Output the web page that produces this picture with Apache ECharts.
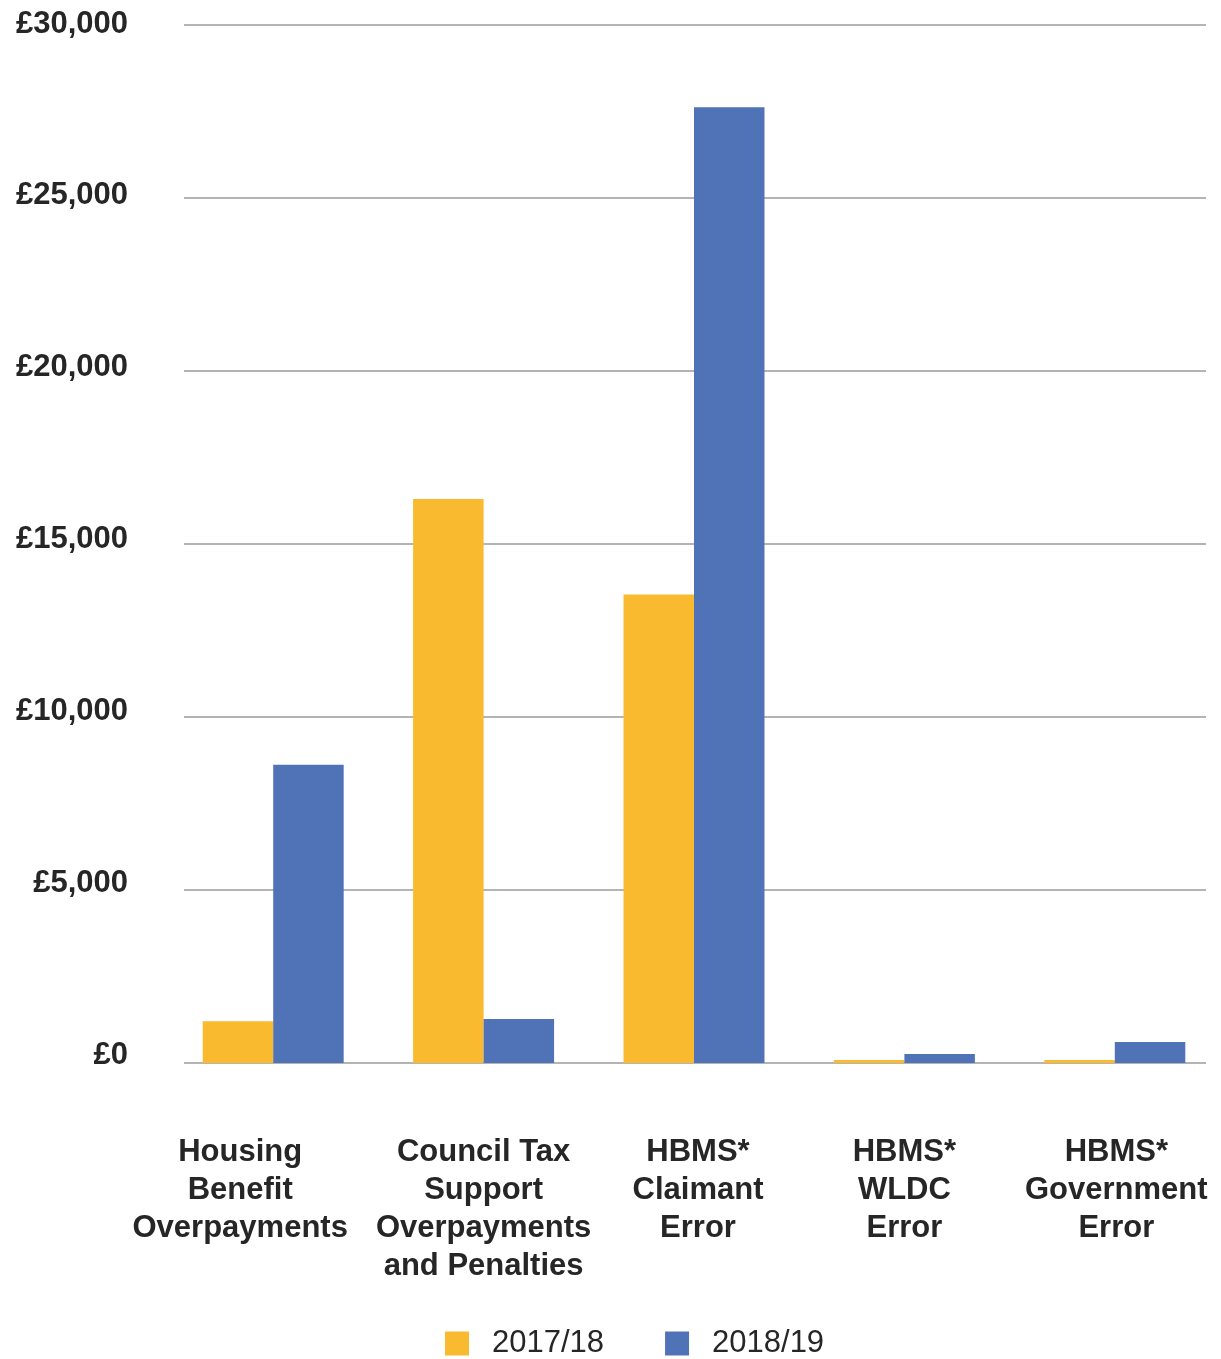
<!DOCTYPE html>
<html><head><meta charset="utf-8">
<script src="https://cdn.jsdelivr.net/npm/echarts@6/dist/echarts.min.js"></script>
<style>html,body{margin:0;padding:0;background:#fff}#c{width:1221px;height:1359px}</style>
</head><body><div id="c"></div>
<script>
const categories = ["Housing\nBenefit\nOverpayments", "Council Tax\nSupport\nOverpayments\nand Penalties", "HBMS*\nClaimant\nError", "HBMS*\nWLDC\nError", "HBMS*\nGovernment\nError"];
const series2017 = [1210, 16300, 13540, 90, 90];
const series2018 = [8620, 1270, 27620, 260, 610];
const yTicks = [0, 5000, 10000, 15000, 20000, 25000, 30000];

const chart = echarts.init(document.getElementById('c'));
const font = '"Liberation Sans", Arial, sans-serif';
const labelPad = [[0, 66, 0, 0], [0, 0, 0, 0], [0, 0, 0, 8], [0, 0, 0, 0], [0, 0, 0, 3]];
const catData = categories.map((c, i) => ({ value: c, textStyle: { padding: labelPad[i] } }));
chart.setOption({
  animation: false,
  textStyle: { fontFamily: font },
  grid: [
    { left: 168, right: 1, top: 25, bottom: 296 },
    { left: 184, right: 15, top: 25, bottom: 296 },
    { left: 184, right: 15, top: 24, bottom: 304 }
  ],
  legend: {
    top: 1323, left: 440,
    itemWidth: 24, itemHeight: 24, itemGap: 61,
    icon: 'rect',
    textStyle: { fontSize: 31, color: '#262626', fontFamily: font, padding: [0, 0, 0, 18] },
    data: ['2017/18', '2018/19']
  },
  xAxis: [
    {
      type: 'category', gridIndex: 0, data: catData,
      axisLine: { show: false }, axisTick: { show: false },
      axisLabel: { interval: 0, margin: 70, fontSize: 31, fontWeight: 'bold', color: '#262626', lineHeight: 38, verticalAlign: 'top', fontFamily: font }
    },
    { type: 'value', gridIndex: 1, show: false, min: 0, max: 1 },
    { type: 'value', gridIndex: 2, show: false, min: 0, max: 1 }
  ],
  yAxis: [
    {
      type: 'value', gridIndex: 0, min: 0, max: 30000, interval: 5000,
      axisLine: { show: false }, axisTick: { show: false },
      splitLine: { show: false }, axisLabel: { show: false }
    },
    {
      type: 'value', gridIndex: 1, min: 0, max: 30000, interval: 5000,
      axisLine: { show: false }, axisTick: { show: false },
      splitLine: { show: true, lineStyle: { color: '#b4b4b4', width: 2 } },
      axisLabel: { show: false }
    },
    {
      type: 'value', gridIndex: 2, min: 0, max: 30000, interval: 5000,
      axisLine: { show: false }, axisTick: { show: false },
      splitLine: { show: false },
      axisLabel: {
        margin: 56, fontSize: 31, fontWeight: 'bold', color: '#262626', fontFamily: font,
        formatter: v => yTicks.includes(v) ? '£' + v.toLocaleString('en-GB') : ''
      }
    }
  ],
  series: [
    { name: '2017/18', type: 'bar', xAxisIndex: 0, yAxisIndex: 0, data: series2017, barGap: '0%', barCategoryGap: '33%', itemStyle: { color: '#F9BA2F' }, z: 3 },
    { name: '2018/19', type: 'bar', xAxisIndex: 0, yAxisIndex: 0, data: series2018, barGap: '0%', barCategoryGap: '33%', itemStyle: { color: '#5073B8' }, z: 3 }
  ]
});
</script></body></html>
